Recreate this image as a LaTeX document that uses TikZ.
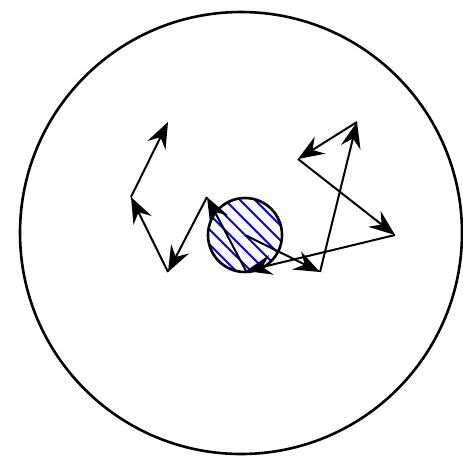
\documentclass[tikz,border=0pt]{standalone}
\usepackage{tikz}
\usetikzlibrary{arrows.meta}

\tikzset{
    walkstep/.style={line width=2pt, -{Stealth[length=26pt, width=20pt, inset=9pt]}},
    rim/.style={line width=2.6pt},
    hatch/.style={blue, line width=2pt}
}

\begin{document}
\begin{tikzpicture}[x=1pt, y=-1pt]
    \useasboundingbox (0,0) rectangle (463,459);

    % Outer domain
    \draw[rim] (241,233) circle (221);

    % Target: hatched disc
    \begin{scope}
        \clip (245,235) circle (37);
        \foreach \k in {-6,...,6} {
            \draw[hatch] (245+\k*15-60, 235-60) -- (245+\k*15+60, 235+60);
        }
    \end{scope}
    \draw[rim] (245,235) circle (37);

    % Points of the walk
    \coordinate (p0) at (245,235);
    \coordinate (p1) at (320,272);
    \coordinate (p2) at (357,122);
    \coordinate (p3) at (298,159);
    \coordinate (p4) at (395,235);
    \coordinate (p5) at (246,271);
    \coordinate (p6) at (207,197);
    \coordinate (p7) at (168,272);
    \coordinate (p8) at (131,197);
    \coordinate (p9) at (168,122);

    % Steps of the walk
    \foreach \a/\b in {p0/p1, p1/p2, p2/p3, p3/p4, p4/p5, p5/p6, p6/p7, p7/p8, p8/p9} {
        \draw[walkstep] (\a) -- (\b);
    }
\end{tikzpicture}
\end{document}
